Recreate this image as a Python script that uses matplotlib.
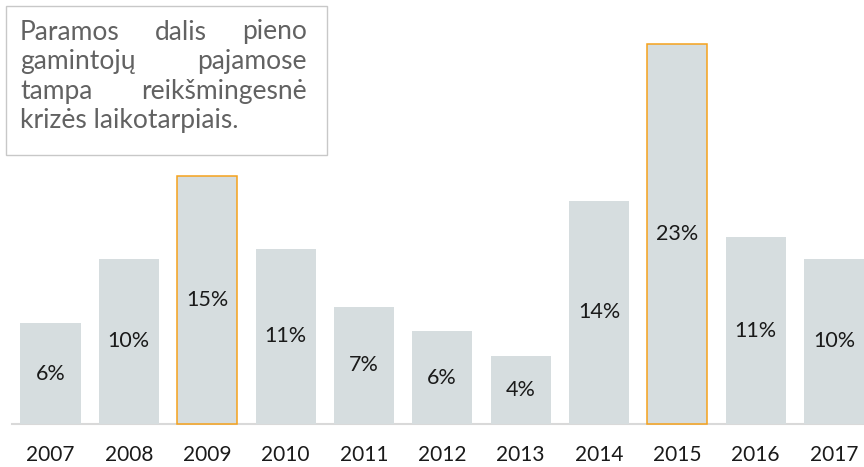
import matplotlib.pyplot as plt
from matplotlib.patches import Rectangle

years = ['2007', '2008', '2009', '2010', '2011', '2012', '2013', '2014', '2015', '2016', '2017']
shares = [6.1, 10.0, 15.0, 10.6, 7.1, 5.6, 4.1, 13.5, 23.0, 11.3, 10.0]
highlight = ['2009', '2015']

note_lines = [
    ['Paramos', 'dalis', 'pieno'],
    ['gamintojų', 'pajamose'],
    ['tampa', 'reikšmingesnė'],
    ['krizės laikotarpiais.'],
]

W, H = 864, 467
fig = plt.figure(figsize=(W / 100, H / 100), dpi=100)
ax = fig.add_axes([0, 0, 1, 1])
ax.set_axis_off()

# pixel geometry of the bars
step = 78.35
x0 = 50.5
base_px = 43
unit = 16.52
ax.set_xlim(-x0 / step, (W - x0) / step)
ax.set_ylim(-base_px / unit, (H - base_px) / unit)

font = 'Lato'
bar_fill = '#d6dddf'
orange = '#f5a21c'

xs = list(range(len(years)))
for x, y, v in zip(xs, years, shares):
    hl = y in highlight
    ax.bar(x, v, width=0.766, color=bar_fill,
           edgecolor=orange if hl else bar_fill,
           linewidth=1.1 if hl else 0, zorder=2)
    ax.text(x, v / 2, '{0:.0f}%'.format(v), ha='center', va='center',
            fontsize=15.5, color='#1a1a1a', family=font, zorder=3)
    ax.text(x, -31 / unit, y, ha='center', va='center',
            fontsize=15, color='#1a1a1a', family=font)

ax.axhline(0, xmin=12 / W, xmax=1, color='#d9d9d9', lw=1.5, zorder=1)

# note box in the top-left corner
fig.patches.append(Rectangle((6 / W, 1 - 155 / H), 321 / W, 149 / H,
                             transform=fig.transFigure, facecolor='white',
                             edgecolor='#c8c8c8', lw=1, zorder=5))
left, right = 20, 307
for i, words in enumerate(note_lines):
    yy = 1 - (32 + i * 29.5) / H
    kw = dict(fontsize=19, color='#626262', family=font,
              va='center', zorder=6)
    if len(words) == 1:
        fig.text(left / W, yy, words[0], ha='left', **kw)
    else:
        fig.text(left / W, yy, words[0], ha='left', **kw)
        fig.text(right / W, yy, words[-1], ha='right', **kw)
        if len(words) == 3:
            fig.text(181 / W, yy, words[1], ha='center', **kw)

fig.savefig('out.png', dpi=100, facecolor='white')
